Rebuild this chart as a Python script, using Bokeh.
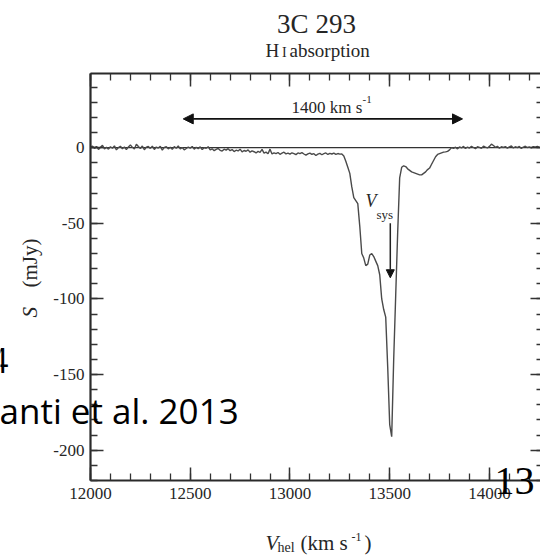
import numpy as np
from math import pi
from bokeh.plotting import figure
from bokeh.models import (Range1d, LinearAxis, SingleIntervalTicker, Arrow,
                          NormalHead, Label, CustomJSTickFormatter)
from bokeh.embed import file_html
from bokeh.resources import INLINE

# ---------------- data ----------------
VEL_START = 12000   # km/s, first channel
VEL_STEP = 10       # km/s, channel width
flux_mjy = [
    # 12000-12090
    0.5, 1.0, -0.5, 0.8, -1.2, 0.3, 1.5, -0.8, 0.2, -1.0,
    # 12100
    0.6, -0.4, 1.2, -1.5, 0.0, 0.9, -0.7, 0.4, -1.3, 0.5,
    # 12200
    1.8, 0.2, -0.9, 2.2, 0.7, -0.6, 1.1, -1.4, 0.3, 0.8,
    # 12300
    -0.5, 1.0, -1.2, 0.4, -0.3, 0.9, -1.6, 0.2, 0.6, -0.8,
    # 12400
    0.3, -1.1, 0.7, -0.4, 1.2, -0.9, 0.1, -1.5, -0.6, 0.4,
    # 12500
    -0.3, 0.8, -1.0, 0.2, -0.7, 0.5, -1.3, 0.0, -0.4, 0.6,
    # 12600
    -1.5, -0.8, -2.0, -1.2, -0.5, -1.8, -2.3, -1.0, -1.6, -0.7,
    # 12700
    -2.0, -1.3, -2.6, -1.7, -2.2, -1.0, -2.8, -1.9, -2.4, -1.5,
    # 12800
    -3.0, -2.2, -2.7, -3.5, -2.5, -3.1, -1.2, -3.6, -3.0, -4.0,
    # 12900
    -1.0, -4.2, -3.5, -4.0, -3.2, -4.4, -3.7, -3.0, -4.1, -3.6,
    # 13000
    -4.3, -3.4, -3.9, -4.6, -3.5, -4.0, -3.3, -4.2, -5.0, -4.1,
    # 13100
    -3.6, -4.4, -4.0, -5.2, -4.3, -3.8, -4.7, -4.0, -3.5, -4.5,
    # 13200
    -3.8, -4.2, -3.6, -4.4, -3.9, -4.3, -4.2, -5.5, -9.0, -13.0,
    # 13300
    -17.0, -26.0, -33.0, -35.0, -37.0, -52.0, -70.0, -73.0, -78.0, -77.0,
    # 13400
    -71.0, -70.0, -72.0, -75.0, -78.0, -84.0, -100.0, -107.0, -112.0, -145.0,
    # 13500
    -183.0, -191.0, -140.0, -98.0, -56.0, -20.0, -13.0, -12.0, -12.5, -14.0,
    # 13600
    -15.0, -16.0, -16.5, -17.0, -17.5, -18.0, -18.0, -17.0, -16.0, -14.5,
    # 13700
    -13.5, -11.0, -8.5, -6.0, -4.5, -4.0, -3.5, -3.0, -2.8, -2.5,
    # 13800
    -1.5, 0.0, -0.5, 0.3, -0.8, 0.5, -0.2, 0.8, -0.6, 0.4,
    # 13900
    -0.3, 0.9, 0.1, -0.7, 0.6, 0.2, -0.5, 1.0, 0.3, -0.2,
    # 14000
    0.8, 2.3, 1.4, 0.2, 0.9, -0.4, 0.6, 0.1, 0.7, -0.3,
    # 14100
    0.5, 1.1, -0.2, 0.6, 0.0, 0.8, -0.5, 0.4, 0.9, 0.1,
    # 14200
    0.5, -0.2, 0.7, 0.3, 0.8, 0.2,
]
velocity = VEL_START + VEL_STEP * np.arange(len(flux_mjy))

X_BOUNDS = (12000, 14256)    # plotted velocity range (km/s)
Y_BOUNDS = (-220, 49)        # plotted flux range (mJy)
X_MAJOR, Y_MAJOR = 500, 50
ZERO_LEVEL = 0

WIDTH_KMS = (12465, 13865)   # the "1400 km s^-1" arrow
WIDTH_ARROW_S = 19
V_SYS = 13503
V_SYS_ARROW = (-50, -86)

TITLE = "3C 293"
SUBTITLE_H, SUBTITLE_I, SUBTITLE_REST = "H", "I", "absorption"

# ---------------- layout ----------------
W, H = 540, 555
FL, FR, FT, FB = 90, 540, 73, 480   # plot box edges in px
BASELINE_FIX = 0.36                 # label baseline correction (fraction of font size)


def sx(px):
    return X_BOUNDS[0] + (px - FL) * (X_BOUNDS[1] - X_BOUNDS[0]) / (FR - FL)


def sy(py):
    return Y_BOUNDS[1] - (py - FT) * (Y_BOUNDS[1] - Y_BOUNDS[0]) / (FB - FT)


SERIF = "Liberation Serif"
INK = "#262626"

# frame covers the whole canvas; the plot box is drawn with fixed-location axes
p = figure(width=W, height=H, x_range=Range1d(sx(0), sx(W)), y_range=Range1d(sy(H), sy(0)),
           output_backend="svg", toolbar_location=None,
           x_axis_location=None, y_axis_location=None)
p.min_border_left = 0
p.min_border_right = 0
p.min_border_top = 0
p.min_border_bottom = 0
p.outline_line_color = None
p.xgrid.visible = False
p.ygrid.visible = False
p.background_fill_color = "white"
p.border_fill_color = "white"

FMT = CustomJSTickFormatter(code="return String(tick);")
BLANK = CustomJSTickFormatter(code="return '';")


def make_axis(loc, bounds, interval, labels=True, line=True, tin=13, min_in=7, standoff=6):
    ax = LinearAxis(fixed_location=loc, bounds=bounds,
                    ticker=SingleIntervalTicker(interval=interval, num_minor_ticks=5),
                    formatter=FMT if labels else BLANK)
    ax.major_tick_in = tin
    ax.major_tick_out = 0
    ax.minor_tick_in = min_in
    ax.minor_tick_out = 0
    ax.major_tick_line_color = "#333333"
    ax.minor_tick_line_color = "#333333"
    ax.major_tick_line_width = 1.5
    ax.minor_tick_line_width = 1.3
    if line:
        ax.axis_line_color = "#2a2a2a"
        ax.axis_line_width = 2.2
    else:
        ax.axis_line_color = None
    ax.major_label_text_font = SERIF
    ax.major_label_text_font_size = "17px"
    ax.major_label_text_color = INK
    ax.major_label_standoff = standoff
    return ax


p.add_layout(make_axis(Y_BOUNDS[0], X_BOUNDS, X_MAJOR, standoff=7), "below")
p.add_layout(make_axis(X_BOUNDS[0], Y_BOUNDS, Y_MAJOR, standoff=6), "left")
p.add_layout(make_axis(Y_BOUNDS[1], X_BOUNDS, X_MAJOR, labels=False), "above")
p.add_layout(make_axis(X_BOUNDS[1] + 14, Y_BOUNDS, Y_MAJOR, labels=False, line=False), "right")

# zero level line across the plot box
p.line(x=list(X_BOUNDS), y=[ZERO_LEVEL, ZERO_LEVEL], line_color="#333333", line_width=1.1)

# spectrum
p.line(velocity, flux_mjy, line_color="#4a4a4a", line_width=1.4)

# 1400 km/s double arrow
p.add_layout(Arrow(start=NormalHead(size=10, fill_color="#111111", line_color="#111111"),
                   end=NormalHead(size=10, fill_color="#111111", line_color="#111111"),
                   x_start=WIDTH_KMS[0], y_start=WIDTH_ARROW_S,
                   x_end=WIDTH_KMS[1], y_end=WIDTH_ARROW_S,
                   line_color="#111111", line_width=1.6))
# V_sys arrow
p.add_layout(Arrow(end=NormalHead(size=8, fill_color="#111111", line_color="#111111"),
                   x_start=V_SYS, y_start=V_SYS_ARROW[0], x_end=V_SYS, y_end=V_SYS_ARROW[1],
                   line_color="#222222", line_width=1.5))


def lab(text, px, py, size, font=SERIF, style="normal", color=INK, align="left", rotated=False):
    if rotated:
        px = px - BASELINE_FIX * size
    else:
        py = py - BASELINE_FIX * size
    p.add_layout(Label(x=sx(px), y=sy(py), text=text, text_font=font,
                       text_font_size=f"{size}px", text_font_style=style,
                       text_color=color, text_align=align, text_baseline="alphabetic",
                       angle=pi / 2 if rotated else 0.0))


# titles
lab(TITLE, 316, 33, 27, align="center")
lab(SUBTITLE_H, 265, 57, 19)
lab(SUBTITLE_I, 281.5, 57, 14)
lab(SUBTITLE_REST, 289, 57, 19)

# 1400 km s^-1 annotation
lab("1400 km s", 291, 113.5, 17)
lab("-1", 362, 103, 11)

# V_sys
lab("V", 365, 207, 18, style="italic")
lab("sys", 376, 219, 13)

# x-axis label
lab("V", 265, 550, 21, style="italic")
lab("hel", 277, 552.5, 14)
lab("(km s", 300, 550, 21)
lab("-1", 351, 541, 12)
lab(")", 364, 550, 21)

# y-axis label
lab("S", 37, 317, 21, style="italic", rotated=True)
lab("(mJy)", 37, 287, 21, rotated=True)

# slide overlay texts
lab("4", -12, 373, 35, font="Open Sans", color="black")
lab("anti et al. 2013", -1, 422.7, 35, font="Open Sans", color="black")
lab("13", 494, 495, 40, font=SERIF, color="black")

open("out.html", "w").write(file_html(p, INLINE))
